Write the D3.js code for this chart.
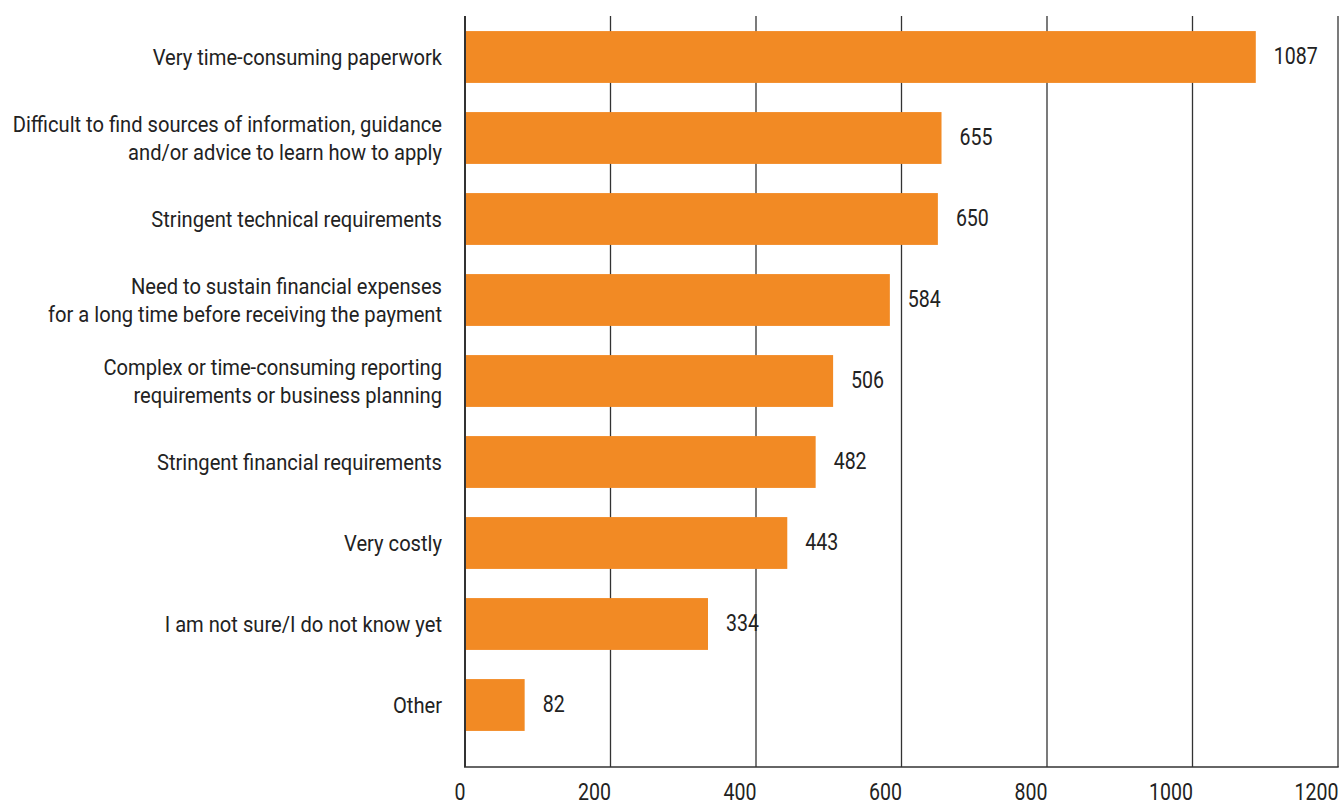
<!DOCTYPE html>
<html>
<head>
<meta charset="utf-8">
<script src="https://cdn.jsdelivr.net/npm/d3@7"></script>
<style>
  html, body { margin: 0; padding: 0; background: #fff; }
  svg { display: block; }
  text { font-family: "Roboto", "DejaVu Sans Condensed", sans-serif; fill: #222; }
</style>
</head>
<body>
<svg id="chart" width="1341" height="805"></svg>
<script>
// Obstacles reported when applying (number of respondents)
const categories = [
  ["Very time-consuming paperwork"],
  ["Difficult to find sources of information, guidance", "and/or advice to learn how to apply"],
  ["Stringent technical requirements"],
  ["Need to sustain financial expenses", "for a long time before receiving the payment"],
  ["Complex or time-consuming reporting", "requirements or business planning"],
  ["Stringent financial requirements"],
  ["Very costly"],
  ["I am not sure/I do not know yet"],
  ["Other"]
];
const values = [1087, 655, 650, 584, 506, 482, 443, 334, 82];
const xTicks = [0, 200, 400, 600, 800, 1000, 1200];

const svg = d3.select("#chart");
const barColor = "#F28A24";
const lineColor = "#333";

// narrow the text horizontally to get a condensed face
const labelSqueeze = 0.915;
const numberSqueeze = 0.85;

const plot = { left: 465, right: 1338, top: 16, bottom: 767 };

const x = d3.scaleLinear().domain([0, 1200]).range([plot.left, plot.right]);
const y = d3.scaleBand()
  .domain(d3.range(categories.length))
  .range([16.5, 16.5 + 81 * categories.length])
  .paddingInner(0.36)
  .paddingOuter(0.18);

// vertical gridlines
svg.append("g")
  .selectAll("line")
  .data(xTicks.slice(1))
  .join("line")
  .attr("x1", d => x(d)).attr("x2", d => x(d))
  .attr("y1", plot.top).attr("y2", plot.bottom)
  .attr("stroke", lineColor)
  .attr("stroke-width", 1.3);

// bars
svg.append("g")
  .selectAll("rect")
  .data(values)
  .join("rect")
  .attr("x", x(0))
  .attr("y", (d, i) => y(i))
  .attr("width", d => x(d) - x(0))
  .attr("height", y.bandwidth())
  .attr("fill", barColor);

// value axis line (left) and baseline
svg.append("line")
  .attr("x1", x(0)).attr("x2", x(0))
  .attr("y1", plot.top).attr("y2", plot.bottom)
  .attr("stroke", lineColor).attr("stroke-width", 2);
svg.append("line")
  .attr("x1", x(0) - 1).attr("x2", x(1200) + 0.7)
  .attr("y1", plot.bottom).attr("y2", plot.bottom)
  .attr("stroke", lineColor).attr("stroke-width", 1.6);

// tick labels (right-aligned to their gridline)
const xAxis = d3.axisBottom(x).tickValues(xTicks).tickSize(0).tickPadding(0).tickFormat(d3.format("d"));
const gx = svg.append("g").attr("transform", `translate(0,${plot.bottom})`).call(xAxis);
gx.select(".domain").remove();
gx.selectAll("text")
  .attr("text-anchor", "end")
  .attr("dy", null)
  .attr("y", 0)
  .attr("x", 0)
  .attr("transform", `translate(0,33) scale(${numberSqueeze},1)`)
  .style("font-size", "23px")
  .style("font-family", "Roboto, sans-serif")
  .attr("fill", "#222");

// category labels
const labels = svg.append("g")
  .selectAll("text")
  .data(categories)
  .join("text")
  .attr("text-anchor", "end")
  .attr("transform", (d, i) => `translate(${x(0) - 23},${y(i) + y.bandwidth() / 2}) scale(${labelSqueeze},1)`)
  .style("font-size", "22px");
labels.each(function(lines) {
  const lh = 28;
  const t = d3.select(this);
  lines.forEach((ln, k) => {
    t.append("tspan")
      .attr("x", 0)
      .attr("y", 8 + (k - (lines.length - 1) / 2) * lh)
      .text(ln);
  });
});

// value labels
svg.append("g")
  .selectAll("text")
  .data(values)
  .join("text")
  .attr("transform", (d, i) => `translate(${x(d) + 18},${y(i) + y.bandwidth() / 2 + 6.5}) scale(${numberSqueeze},1)`)
  .style("font-size", "23px")
  .text(d => d);
</script>
</body>
</html>
